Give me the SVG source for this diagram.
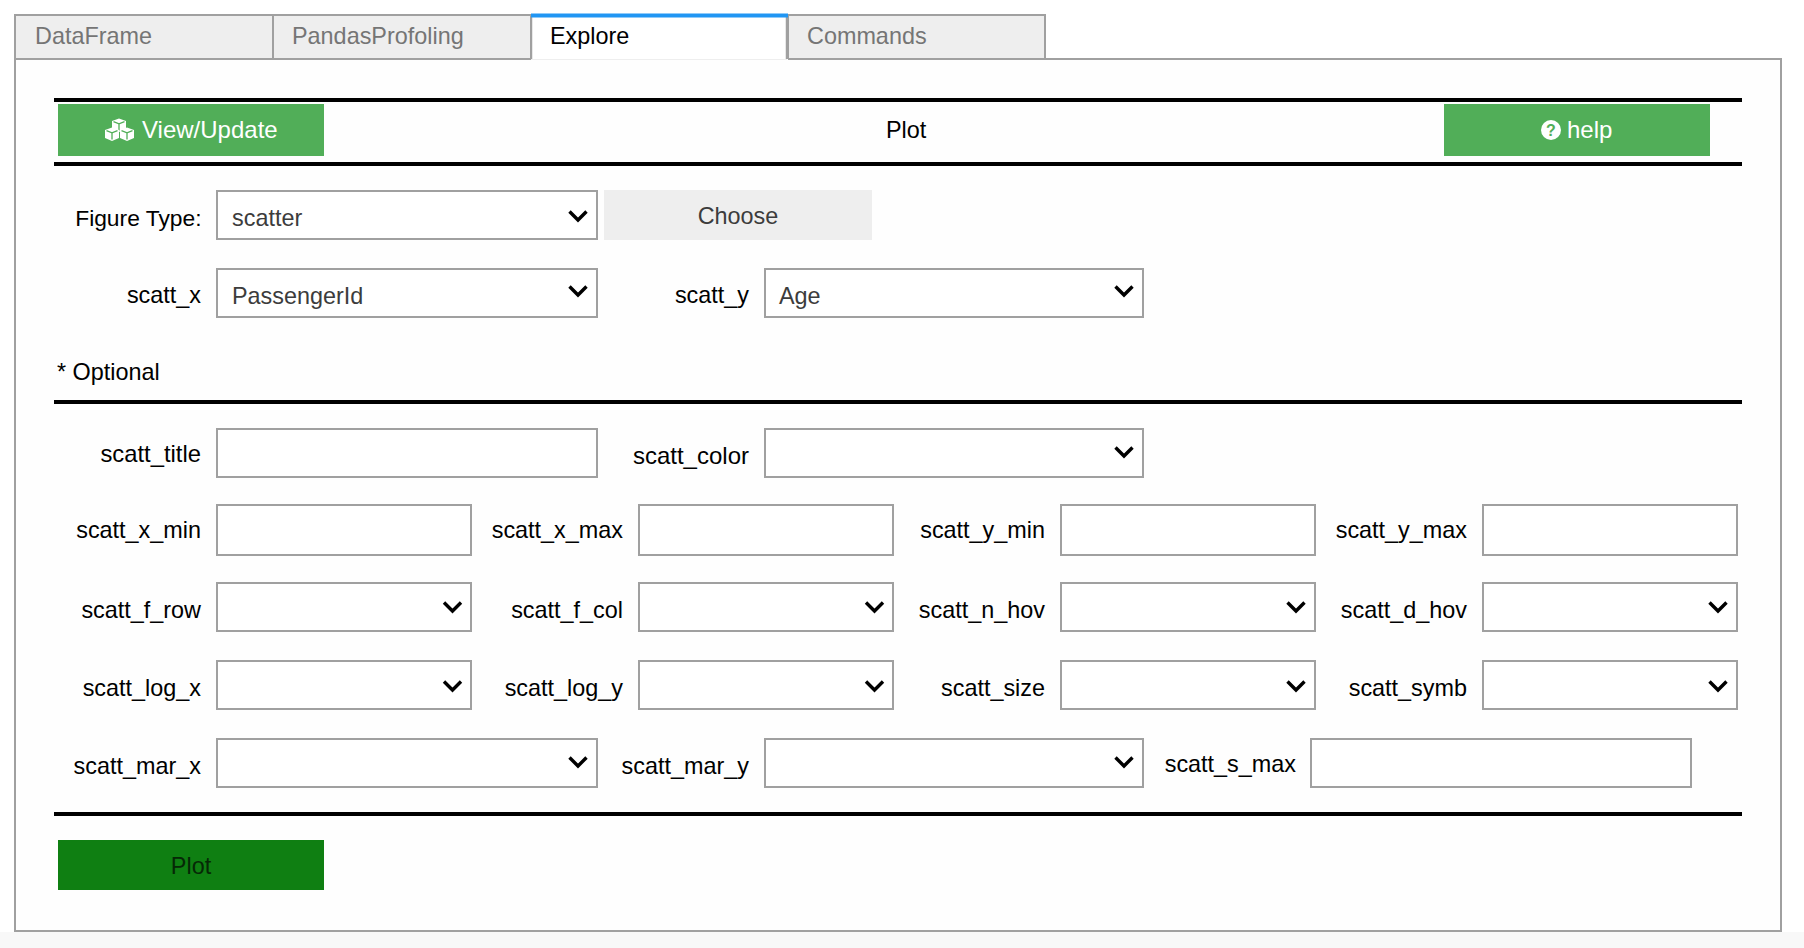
<svg xmlns="http://www.w3.org/2000/svg" xmlns:xlink="http://www.w3.org/1999/xlink" width="1804" height="948" viewBox="0 0 1804 948">
<style>
text{font-family:"Liberation Sans",Arial,sans-serif;font-size:23.4px;fill:#000}
.lab{text-anchor:end}
.tab{fill:#eee;stroke:#a0a0a0;stroke-width:2}
.tt{fill:#757575}
.box{fill:#fff;stroke:#a0a0a0;stroke-width:2}
.rule{fill:#000}
.btn{fill:#51ae58}
.val{fill:#3c3c3c}
.w{fill:#fff}
.bt{fill:#fff;font-size:24px}
.chev{fill:none;stroke:#000;stroke-width:3.4}
</style>
<defs>
<path id="chev" class="chev" d="M-8.5 -4.5L0 4L8.5 -4.5"/>
<g id="cube"><path class="w" d="M0 -6.5L7 -4V4L0 7L-7 4V-4Z"/><path d="M-5.5 -3.4L0 -1.2L5.5 -3.4M0 -1.2V5.5" fill="none" stroke="#51ae58" stroke-width="1.300"/></g>
</defs>
<rect x="0" y="0" width="1804" height="948" fill="#fff"/>
<rect x="0" y="932" width="1804" height="16" fill="#f8f8f8"/>
<g id="panel"><rect x="15" y="59" width="1766" height="872" fill="#fefefe" stroke="#a0a0a0" stroke-width="2"/></g>
<g id="tabs">
<g id="tab-dataframe"><rect class="tab" x="15" y="15" width="258" height="44"/><text class="tt" x="35" y="44">DataFrame</text></g>
<g id="tab-profiling"><rect class="tab" x="273" y="15" width="258" height="44"/><text class="tt" x="292" y="44">PandasProfoling</text></g>
<g id="tab-commands"><rect class="tab" x="788" y="15" width="257" height="44"/><text class="tt" x="807" y="44">Commands</text></g>
<g id="tab-explore"><rect x="531" y="15" width="257" height="45" fill="#fff"/><path d="M531.500 15V59" stroke="#a0a0a0" stroke-width="1.500"/><path d="M787 15V59" stroke="#a0a0a0" stroke-width="2.500"/><rect x="531" y="59" width="256" height="1" fill="#eee"/><rect x="531" y="13.500" width="257" height="4" fill="#2196f3"/><text x="550" y="44">Explore</text></g>
</g>
<g id="rules">
<rect class="rule" x="54" y="98" width="1688" height="4"/>
<rect class="rule" x="54" y="162" width="1688" height="4"/>
<rect class="rule" x="54" y="400" width="1688" height="4"/>
<rect class="rule" x="54" y="812" width="1688" height="4"/>
</g>
<g id="view-update"><rect class="btn" x="58" y="104" width="266" height="52"/>
<use xlink:href="#cube" href="#cube" x="119" y="125"/><use xlink:href="#cube" href="#cube" x="112" y="134"/><use xlink:href="#cube" href="#cube" x="127" y="134"/>
<text class="bt" x="142" y="138">View/Update</text></g>
<g id="plot-title"><text x="886" y="138">Plot</text></g>
<g id="help"><rect class="btn" x="1444" y="104" width="266" height="52"/><circle class="w" cx="1551" cy="130" r="10"/><text x="1551" y="136" text-anchor="middle" style="font-size:16px;font-weight:bold;fill:#51ae58">?</text><text class="bt" x="1567" y="138">help</text></g>
<g id="figure-type"><text class="lab" x="201.500" y="226" style="font-size:22.8px">Figure Type:</text><rect class="box" x="217" y="191" width="380" height="48"/><text class="val" x="232" y="226">scatter</text><use xlink:href="#chev" href="#chev" x="578" y="216"/></g>
<g id="choose"><rect x="604" y="190" width="268" height="50" fill="#eee"/><text x="738" y="224" text-anchor="middle" style="fill:#3c3c3c">Choose</text></g>
<g id="scatt-x"><text class="lab" x="201" y="303">scatt_x</text><rect class="box" x="217" y="269" width="380" height="48"/><text class="val" x="232" y="304">PassengerId</text><use xlink:href="#chev" href="#chev" x="578" y="291"/></g>
<g id="scatt-y"><text class="lab" x="749" y="303">scatt_y</text><rect class="box" x="765" y="269" width="378" height="48"/><text class="val" x="779" y="304">Age</text><use xlink:href="#chev" href="#chev" x="1124" y="291"/></g>
<g id="optional"><text x="57" y="380">* Optional</text></g>
<g id="scatt-title"><text class="lab" x="201" y="462" style="font-size:23.800px">scatt_title</text><rect class="box" x="217" y="429" width="380" height="48"/></g>
<g id="scatt-color"><text class="lab" x="749" y="464" style="font-size:24px">scatt_color</text><rect class="box" x="765" y="429" width="378" height="48"/><use xlink:href="#chev" href="#chev" x="1124" y="452"/></g>
<g id="scatt-x-min"><text class="lab" x="201" y="538">scatt_x_min</text><rect class="box" x="217" y="505" width="254" height="50"/></g>
<g id="scatt-x-max"><text class="lab" x="623" y="538">scatt_x_max</text><rect class="box" x="639" y="505" width="254" height="50"/></g>
<g id="scatt-y-min"><text class="lab" x="1045" y="538">scatt_y_min</text><rect class="box" x="1061" y="505" width="254" height="50"/></g>
<g id="scatt-y-max"><text class="lab" x="1467" y="538">scatt_y_max</text><rect class="box" x="1483" y="505" width="254" height="50"/></g>
<g id="scatt-f-row"><text class="lab" x="201" y="618">scatt_f_row</text><rect class="box" x="217" y="583" width="254" height="48"/><use xlink:href="#chev" href="#chev" x="452.500" y="607"/></g>
<g id="scatt-f-col"><text class="lab" x="623" y="618">scatt_f_col</text><rect class="box" x="639" y="583" width="254" height="48"/><use xlink:href="#chev" href="#chev" x="874.500" y="607"/></g>
<g id="scatt-n-hov"><text class="lab" x="1045" y="618">scatt_n_hov</text><rect class="box" x="1061" y="583" width="254" height="48"/><use xlink:href="#chev" href="#chev" x="1296" y="607"/></g>
<g id="scatt-d-hov"><text class="lab" x="1467" y="618">scatt_d_hov</text><rect class="box" x="1483" y="583" width="254" height="48"/><use xlink:href="#chev" href="#chev" x="1718" y="607"/></g>
<g id="scatt-log-x"><text class="lab" x="201" y="696">scatt_log_x</text><rect class="box" x="217" y="661" width="254" height="48"/><use xlink:href="#chev" href="#chev" x="452.500" y="686"/></g>
<g id="scatt-log-y"><text class="lab" x="623" y="696">scatt_log_y</text><rect class="box" x="639" y="661" width="254" height="48"/><use xlink:href="#chev" href="#chev" x="874.500" y="686"/></g>
<g id="scatt-size"><text class="lab" x="1045" y="696">scatt_size</text><rect class="box" x="1061" y="661" width="254" height="48"/><use xlink:href="#chev" href="#chev" x="1296" y="686"/></g>
<g id="scatt-symb"><text class="lab" x="1467" y="696">scatt_symb</text><rect class="box" x="1483" y="661" width="254" height="48"/><use xlink:href="#chev" href="#chev" x="1718" y="686"/></g>
<g id="scatt-mar-x"><text class="lab" x="201" y="774">scatt_mar_x</text><rect class="box" x="217" y="739" width="380" height="48"/><use xlink:href="#chev" href="#chev" x="578" y="762"/></g>
<g id="scatt-mar-y"><text class="lab" x="749" y="774">scatt_mar_y</text><rect class="box" x="765" y="739" width="378" height="48"/><use xlink:href="#chev" href="#chev" x="1124" y="762"/></g>
<g id="scatt-s-max"><text class="lab" x="1296" y="772">scatt_s_max</text><rect class="box" x="1311" y="739" width="380" height="48"/></g>
<g id="plot-button"><rect x="58" y="840" width="266" height="50" fill="#0f7f12"/><text x="191" y="874" text-anchor="middle" style="fill:#062806">Plot</text></g>
</svg>
